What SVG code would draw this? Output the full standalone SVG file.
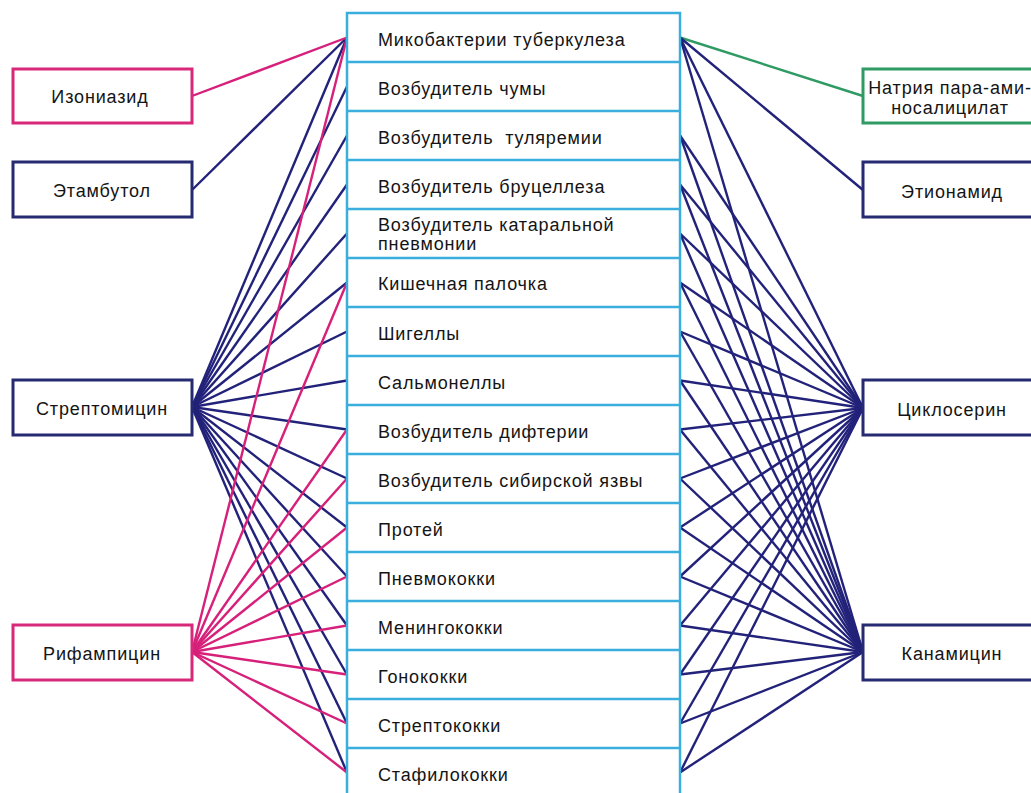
<svg xmlns="http://www.w3.org/2000/svg" width="1031" height="793" viewBox="0 0 1031 793">
<style>
text{font-family:"Liberation Sans",Arial,sans-serif;font-size:18px;fill:#141414;letter-spacing:0.85px}
.c{text-anchor:middle}
.box{fill:#ffffff;stroke-width:3}
.navyb{stroke:#262a70}
.pinkb{stroke:#d8287a}
.greenb{stroke:#2f9a63}
.col{fill:#ffffff;stroke:#3aaedc;stroke-width:2.5}
.div{stroke:#3aaedc;stroke-width:2.5}
.n{stroke:#22227a;stroke-width:2.4;fill:none}
.p{stroke:#d6207a;stroke-width:2.4;fill:none}
.g{stroke:#2f9a63;stroke-width:2.4;fill:none}
</style>
<rect width="1031" height="793" fill="#ffffff"/>
<g id="connectors">
<g class="n">
<line x1="192" y1="407" x2="347" y2="37.5"/>
<line x1="192" y1="407" x2="347" y2="86.5"/>
<line x1="192" y1="407" x2="347" y2="135.5"/>
<line x1="192" y1="407" x2="347" y2="184.5"/>
<line x1="192" y1="407" x2="347" y2="233.5"/>
<line x1="192" y1="407" x2="347" y2="282.5"/>
<line x1="192" y1="407" x2="347" y2="331.5"/>
<line x1="192" y1="407" x2="347" y2="380.5"/>
<line x1="192" y1="407" x2="347" y2="429.5"/>
<line x1="192" y1="407" x2="347" y2="478.5"/>
<line x1="192" y1="407" x2="347" y2="527.5"/>
<line x1="192" y1="407" x2="347" y2="576.5"/>
<line x1="192" y1="407" x2="347" y2="625.5"/>
<line x1="192" y1="407" x2="347" y2="674.5"/>
<line x1="192" y1="407" x2="347" y2="723.5"/>
<line x1="192" y1="407" x2="347" y2="772.5"/>
<line x1="192" y1="190" x2="347" y2="37.5"/>
</g>
<g class="p">
<line x1="192" y1="96" x2="347" y2="37.5"/>
<line x1="192" y1="652" x2="347" y2="37.5"/>
<line x1="192" y1="652" x2="347" y2="282.5"/>
<line x1="192" y1="652" x2="347" y2="429.5"/>
<line x1="192" y1="652" x2="347" y2="478.5"/>
<line x1="192" y1="652" x2="347" y2="527.5"/>
<line x1="192" y1="652" x2="347" y2="576.5"/>
<line x1="192" y1="652" x2="347" y2="625.5"/>
<line x1="192" y1="652" x2="347" y2="674.5"/>
<line x1="192" y1="652" x2="347" y2="723.5"/>
<line x1="192" y1="652" x2="347" y2="772.5"/>
</g>
<g class="g">
<line x1="680" y1="37.5" x2="863" y2="96"/>
</g>
<g class="n">
<line x1="680" y1="37.5" x2="863" y2="190"/>
<line x1="680" y1="37.5" x2="863" y2="408"/>
<line x1="680" y1="135.5" x2="863" y2="408"/>
<line x1="680" y1="184.5" x2="863" y2="408"/>
<line x1="680" y1="233.5" x2="863" y2="408"/>
<line x1="680" y1="282.5" x2="863" y2="408"/>
<line x1="680" y1="331.5" x2="863" y2="408"/>
<line x1="680" y1="380.5" x2="863" y2="408"/>
<line x1="680" y1="429.5" x2="863" y2="408"/>
<line x1="680" y1="478.5" x2="863" y2="408"/>
<line x1="680" y1="527.5" x2="863" y2="408"/>
<line x1="680" y1="576.5" x2="863" y2="408"/>
<line x1="680" y1="625.5" x2="863" y2="408"/>
<line x1="680" y1="674.5" x2="863" y2="408"/>
<line x1="680" y1="723.5" x2="863" y2="408"/>
<line x1="680" y1="772.5" x2="863" y2="408"/>
<line x1="680" y1="37.5" x2="863" y2="652"/>
<line x1="680" y1="135.5" x2="863" y2="652"/>
<line x1="680" y1="184.5" x2="863" y2="652"/>
<line x1="680" y1="233.5" x2="863" y2="652"/>
<line x1="680" y1="282.5" x2="863" y2="652"/>
<line x1="680" y1="331.5" x2="863" y2="652"/>
<line x1="680" y1="380.5" x2="863" y2="652"/>
<line x1="680" y1="429.5" x2="863" y2="652"/>
<line x1="680" y1="478.5" x2="863" y2="652"/>
<line x1="680" y1="527.5" x2="863" y2="652"/>
<line x1="680" y1="576.5" x2="863" y2="652"/>
<line x1="680" y1="625.5" x2="863" y2="652"/>
<line x1="680" y1="674.5" x2="863" y2="652"/>
<line x1="680" y1="723.5" x2="863" y2="652"/>
<line x1="680" y1="772.5" x2="863" y2="652"/>
</g>
</g>
<g id="pathogens">
<rect class="col" x="347" y="13" width="333" height="800"/>
<g class="div">
<line x1="347" y1="62" x2="680" y2="62"/>
<line x1="347" y1="111" x2="680" y2="111"/>
<line x1="347" y1="160" x2="680" y2="160"/>
<line x1="347" y1="209" x2="680" y2="209"/>
<line x1="347" y1="258" x2="680" y2="258"/>
<line x1="347" y1="307" x2="680" y2="307"/>
<line x1="347" y1="356" x2="680" y2="356"/>
<line x1="347" y1="405" x2="680" y2="405"/>
<line x1="347" y1="454" x2="680" y2="454"/>
<line x1="347" y1="503" x2="680" y2="503"/>
<line x1="347" y1="552" x2="680" y2="552"/>
<line x1="347" y1="601" x2="680" y2="601"/>
<line x1="347" y1="650" x2="680" y2="650"/>
<line x1="347" y1="699" x2="680" y2="699"/>
<line x1="347" y1="748" x2="680" y2="748"/>
</g>
<g id="row0"><text x="378" y="46">Микобактерии туберкулеза</text></g>
<g id="row1"><text x="378" y="95">Возбудитель чумы</text></g>
<g id="row2"><text x="378" y="144" xml:space="preserve" style="white-space:pre">Возбудитель  туляремии</text></g>
<g id="row3"><text x="378" y="193">Возбудитель бруцеллеза</text></g>
<g id="row4"><text x="378" y="231">Возбудитель катаральной</text><text x="378" y="250">пневмонии</text></g>
<g id="row5"><text x="378" y="290">Кишечная палочка</text></g>
<g id="row6"><text x="378" y="340">Шигеллы</text></g>
<g id="row7"><text x="378" y="389">Сальмонеллы</text></g>
<g id="row8"><text x="378" y="438">Возбудитель дифтерии</text></g>
<g id="row9"><text x="378" y="487">Возбудитель сибирской язвы</text></g>
<g id="row10"><text x="378" y="536">Протей</text></g>
<g id="row11"><text x="378" y="585">Пневмококки</text></g>
<g id="row12"><text x="378" y="634">Менингококки</text></g>
<g id="row13"><text x="378" y="683">Гонококки</text></g>
<g id="row14"><text x="378" y="732">Стрептококки</text></g>
<g id="row15"><text x="378" y="781">Стафилококки</text></g>
</g>
<g id="isoniazid"><rect class="box pinkb" x="13" y="69" width="179" height="54"/><text class="c" x="100" y="103">Изониазид</text></g>
<g id="ethambutol"><rect class="box navyb" x="13" y="162" width="179" height="55"/><text class="c" x="102" y="197">Этамбутол</text></g>
<g id="streptomycin"><rect class="box navyb" x="13" y="380" width="179" height="55"/><text class="c" x="102" y="415">Стрептомицин</text></g>
<g id="rifampicin"><rect class="box pinkb" x="13" y="625" width="179" height="55"/><text class="c" x="102" y="660">Рифампицин</text></g>
<g id="pas"><rect class="box greenb" x="863" y="69" width="179" height="54"/><text class="c" x="950" y="94">Натрия пара-ами-</text><text class="c" x="950" y="114">носалицилат</text></g>
<g id="ethionamide"><rect class="box navyb" x="863" y="162" width="179" height="55"/><text class="c" x="952" y="198">Этионамид</text></g>
<g id="cycloserine"><rect class="box navyb" x="863" y="380" width="179" height="55"/><text class="c" x="952" y="416">Циклосерин</text></g>
<g id="kanamycin"><rect class="box navyb" x="863" y="625" width="179" height="55"/><text class="c" x="952" y="660">Канамицин</text></g>
</svg>
